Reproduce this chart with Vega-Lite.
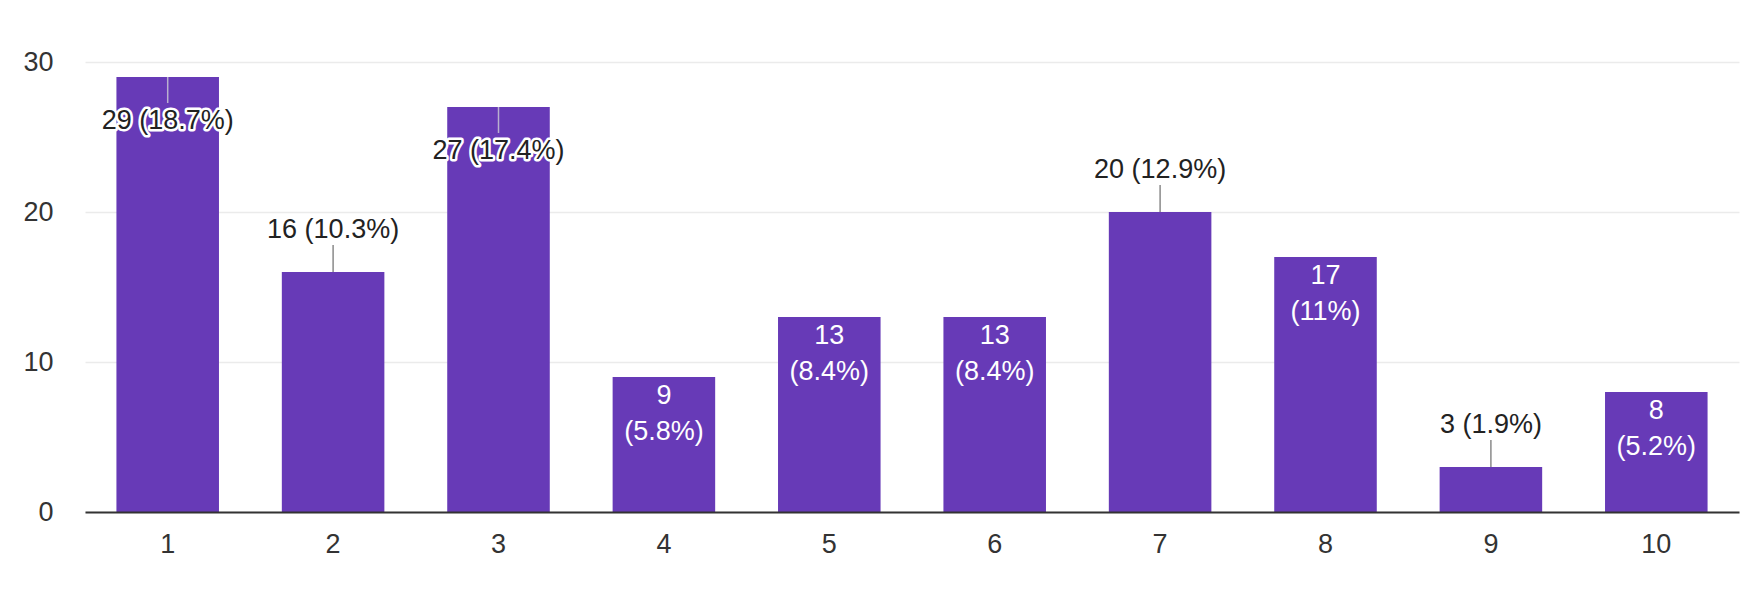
{
  "$schema": "https://vega.github.io/schema/vega-lite/v6.json",
  "autosize": {"type": "none"},
  "padding": {"left": 85, "top": 62, "right": 22, "bottom": 79},
  "width": 1654,
  "height": 450,
  "background": "white",
  "config": {
    "view": {"stroke": null},
    "font": "Liberation Sans"
  },
  "data": {
    "values": [
      {"option": "1", "count": 29, "label": "29 (18.7%)"},
      {"option": "2", "count": 16, "label": "16 (10.3%)"},
      {"option": "3", "count": 27, "label": "27 (17.4%)"},
      {"option": "4", "count": 9, "label": "9 (5.8%)"},
      {"option": "5", "count": 13, "label": "13 (8.4%)"},
      {"option": "6", "count": 13, "label": "13 (8.4%)"},
      {"option": "7", "count": 20, "label": "20 (12.9%)"},
      {"option": "8", "count": 17, "label": "17 (11%)"},
      {"option": "9", "count": 3, "label": "3 (1.9%)"},
      {"option": "10", "count": 8, "label": "8 (5.2%)"}
    ]
  },
  "encoding": {
    "x": {
      "field": "option",
      "type": "ordinal",
      "sort": null,
      "scale": {"type": "band", "paddingInner": 0.38, "paddingOuter": 0.19},
      "axis": {
        "title": null,
        "labelAngle": 0,
        "ticks": false,
        "domain": true,
        "domainColor": "#333333",
        "domainWidth": 2,
        "grid": false,
        "labelFontSize": 27,
        "labelColor": "#333333",
        "labelPadding": 19,
        "labelFont": "Liberation Sans",
        "zindex": 1
      }
    },
    "y": {
      "field": "count",
      "type": "quantitative",
      "scale": {"domain": [0, 30], "nice": false},
      "axis": {
        "title": null,
        "values": [0, 10, 20, 30],
        "ticks": false,
        "domain": false,
        "gridColor": "#ebebeb",
        "gridWidth": 1.5,
        "labelFontSize": 27,
        "labelColor": "#333333",
        "labelPadding": 32,
        "labelFont": "Liberation Sans"
      }
    }
  },
  "layer": [
    {"mark": {"type": "bar", "color": "#673ab7"}},
    {
      "transform": [{"filter": {"field": "option", "oneOf": ["2", "7", "9"]}}],
      "mark": {"type": "rule", "color": "#8a8a8a", "strokeWidth": 1.5, "y2Offset": -27},
      "encoding": {"y2": {"field": "count"}}
    },
    {
      "transform": [{"filter": {"field": "option", "oneOf": ["1", "3"]}}],
      "mark": {"type": "rule", "color": "#b9b0cf", "strokeWidth": 1.5, "y2Offset": 26},
      "encoding": {"y2": {"field": "count"}}
    },
    {
      "transform": [{"filter": {"field": "option", "oneOf": ["2", "7", "9"]}}],
      "mark": {"type": "text", "fontSize": 27, "color": "#222222", "baseline": "middle", "dy": -42, "font": "Liberation Sans"},
      "encoding": {"text": {"field": "label"}}
    },
    {
      "transform": [{"filter": {"field": "option", "oneOf": ["1", "3"]}}],
      "mark": {"type": "text", "fontSize": 27, "fill": "white", "stroke": "white", "strokeWidth": 5, "strokeJoin": "round", "baseline": "middle", "dy": 44, "font": "Liberation Sans"},
      "encoding": {"text": {"field": "label"}}
    },
    {
      "transform": [{"filter": {"field": "option", "oneOf": ["1", "3"]}}],
      "mark": {"type": "text", "fontSize": 27, "color": "#222222", "baseline": "middle", "dy": 44, "font": "Liberation Sans"},
      "encoding": {"text": {"field": "label"}}
    },
    {
      "transform": [{"filter": {"field": "option", "oneOf": ["4", "5", "6", "8", "10"]}}],
      "mark": {"type": "text", "fontSize": 27, "color": "white", "baseline": "top", "dy": 6, "lineBreak": " ", "lineHeight": 36, "font": "Liberation Sans"},
      "encoding": {"text": {"field": "label"}}
    }
  ]
}
